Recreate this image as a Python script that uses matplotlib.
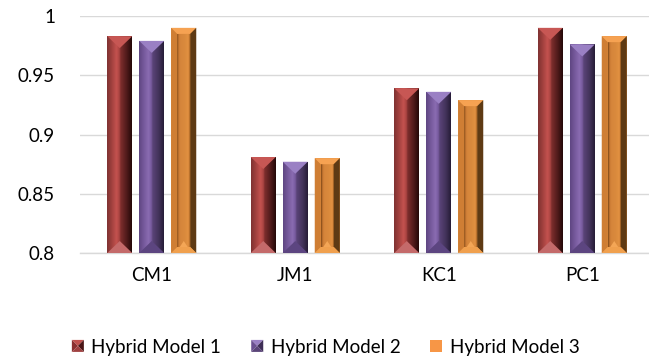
import numpy as np
import matplotlib.pyplot as plt
from matplotlib.patches import Polygon, Rectangle
from matplotlib.colors import LinearSegmentedColormap
from matplotlib.legend_handler import HandlerBase

plt.rcParams['font.family'] = ['Lato', 'DejaVu Sans']

categories = ['CM1', 'JM1', 'KC1', 'PC1']
series_names = ['Hybrid Model 1', 'Hybrid Model 2', 'Hybrid Model 3']
model1 = [0.983, 0.881, 0.939, 0.990]
model2 = [0.979, 0.877, 0.936, 0.976]
model3 = [0.990, 0.880, 0.929, 0.983]
y_ticks = [0.8, 0.85, 0.9, 0.95, 1.0]
y_labels = ['0.8', '0.85', '0.9', '0.95', '1']

# shading for each series: body gradient (left -> right), top cap, bottom cap
styles = [
    dict(kind='pyramid',
         body=[(0, '#7e3232'), (0.15, '#9a3d3b'), (0.38, '#c4524f'), (0.5, '#a84341'),
               (0.55, '#7e2e2d'), (0.8, '#4e1a1a'), (1.0, '#240808')],
         top='#c75754', bottom='#c46a6a', legend=('#c0504d', '#8a3030', '#4a1515', '#a04040')),
    dict(kind='pyramid',
         body=[(0, '#5e4682'), (0.15, '#715596'), (0.38, '#8a6cb2'), (0.5, '#76599c'),
               (0.55, '#5a4478'), (0.8, '#42325a'), (1.0, '#261c36')],
         top='#9a80c4', bottom='#5c4580', legend=('#9a80c4', '#6a5090', '#3e2e56', '#5a4478')),
    dict(kind='frame',
         body=[(0, '#7a4616'), (0.12, '#c27430'), (0.22, '#d4843a'), (0.7, '#dc8c3e'),
               (0.88, '#e39242'), (1.0, '#a86424')],
         left='#cf7e34', top='#f6a252', right='#5e3a14', bottom='#f0a04e',
         legend=('#f79646',)),
]

W, H = 649, 361
fig = plt.figure(figsize=(W / 100, H / 100), dpi=100)
ax_l, ax_r, ax_t, ax_b = 80, 654, 16, 253
ax = fig.add_axes([ax_l / W, (H - ax_b) / H, (ax_r - ax_l) / W, (ax_b - ax_t) / H])

ymin, ymax = 0.8, 1.0
xmin, xmax = -0.5, len(categories) - 0.5
px_x = (xmax - xmin) / (ax_r - ax_l)
px_y = (ymax - ymin) / (ax_b - ax_t)


def face(x0, x1, y0, y1, stops, clip):
    cmap = LinearSegmentedColormap.from_list('face', stops)
    grad = np.linspace(0, 1, 128)[None, :]
    im = ax.imshow(grad, cmap=cmap, extent=[x0, x1, y0, y1], aspect='auto',
                   interpolation='bilinear', zorder=3)
    im.set_clip_path(clip)


def poly(pts, color, z=4):
    ax.add_patch(Polygon(pts, closed=True, facecolor=color, edgecolor='none', zorder=z))


x = np.arange(len(categories))
bar_w = 25 * px_x
step = 32 * px_x
values = [model1, model2, model3]

for i, (vals, st) in enumerate(zip(values, styles)):
    bars = ax.bar(x + (i - 1) * step, np.array(vals) - ymin, bottom=ymin, width=bar_w,
                  color=st['body'][3][1], zorder=2, label=series_names[i])
    for rect in bars:
        x0, y0 = rect.get_x(), rect.get_y()
        x1, y1 = x0 + rect.get_width(), y0 + rect.get_height()
        xc = (x0 + x1) / 2
        if st['kind'] == 'pyramid':
            face(x0, x1, y0, y1, st['body'], rect)
            d = 12 * px_y
            poly([(x0, y1), (x1, y1), (xc, y1 - d)], st['top'])
            poly([(x0, y0), (x1, y0), (xc, y0 + d)], st['bottom'])
        else:
            bx, by = 6 * px_x, 6 * px_y
            inner = Rectangle((x0 + bx, y0 + by), x1 - x0 - 2 * bx, y1 - y0 - 2 * by,
                              facecolor='none', edgecolor='none')
            ax.add_patch(inner)
            face(x0 + bx, x1 - bx, y0 + by, y1 - by, st['body'], inner)
            poly([(x0, y0), (x0, y1), (x0 + bx, y1 - by), (x0 + bx, y0 + by)], st['left'])
            poly([(x0, y1), (x1, y1), (x1 - bx, y1 - by), (x0 + bx, y1 - by)], st['top'])
            poly([(x1, y1), (x1, y0), (x1 - bx, y0 + by), (x1 - bx, y1 - by)], st['right'])
            poly([(x0, y0), (x1, y0), (x1 - bx, y0 + by), (x0 + bx, y0 + by)], st['bottom'])
            poly([(xc - 4 * px_x, y0 + by), (xc + 4 * px_x, y0 + by), (xc, y0 + by + 6 * px_y)],
                 '#f4a656', z=5)

ax.set_xlim(xmin, xmax)
ax.set_ylim(ymin, ymax)
ax.set_yticks(y_ticks, y_labels)
ax.set_xticks(x, categories)
ax.tick_params(axis='both', length=0, labelsize=13.5, colors='#000000')
ax.tick_params(axis='y', pad=18)
ax.tick_params(axis='x', pad=10)
ax.grid(axis='y', color='#d9d9d9', linewidth=1.0, zorder=0)
ax.set_axisbelow(True)
for s in ['top', 'right', 'left']:
    ax.spines[s].set_visible(False)
ax.spines['bottom'].set_color('#d9d9d9')
ax.spines['bottom'].set_linewidth(1.0)


class BevelHandler(HandlerBase):
    def __init__(self, cols):
        super().__init__()
        self.cols = cols

    def create_artists(self, legend, orig_handle, xdescent, ydescent, width, height, fontsize, trans):
        s = min(width, height)
        x0, y0 = -xdescent + (width - s) / 2, -ydescent + (height - s) / 2
        x1, y1 = x0 + s, y0 + s
        xc, yc = x0 + s / 2, y0 + s / 2
        if len(self.cols) == 1:
            return [Rectangle((x0, y0), s, s, facecolor=self.cols[0], edgecolor='none', transform=trans)]
        top, left, right, bottom = self.cols
        tris = [[(x0, y1), (x1, y1), (xc, yc)], [(x0, y0), (x0, y1), (xc, yc)],
                [(x1, y0), (x1, y1), (xc, yc)], [(x0, y0), (x1, y0), (xc, yc)]]
        return [Polygon(t, closed=True, facecolor=c, edgecolor='none', transform=trans)
                for t, c in zip(tris, [top, left, right, bottom])]


handles, labels = ax.get_legend_handles_labels()
fig.legend(handles, labels, loc='center', bbox_to_anchor=(0.502, 1 - 347 / H), ncol=3,
           frameon=False, fontsize=13.5, handlelength=0.64, handleheight=0.64,
           handletextpad=0.4, columnspacing=1.6,
           handler_map={h: BevelHandler(st['legend']) for h, st in zip(handles, styles)})

fig.savefig('out.png', dpi=100)
